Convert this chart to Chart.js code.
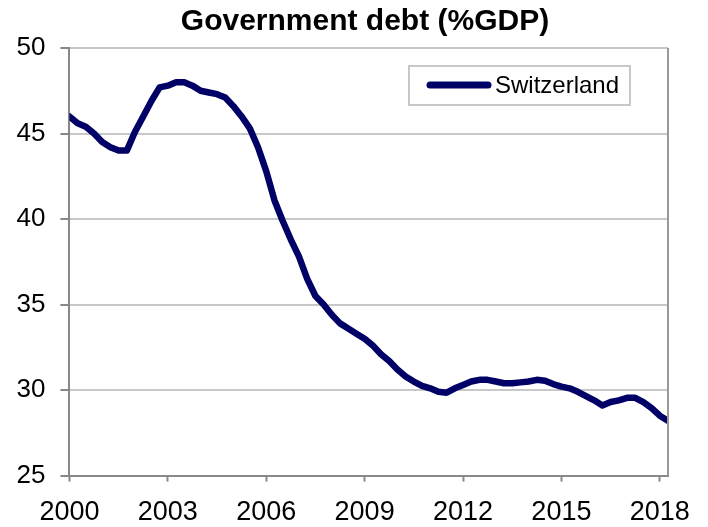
<!DOCTYPE html>
<html>
<head>
<meta charset="utf-8">
<script src="https://cdn.jsdelivr.net/npm/chart.js@4/dist/chart.umd.min.js"></script>
<style>
  html, body { margin: 0; padding: 0; background: #fff; }
  #wrap { width: 708px; height: 527px; }
</style>
</head>
<body>
<div id="wrap"><canvas id="debt"></canvas></div>
<script>
// quarterly series, first point = 2000 Q1
const firstYear = 2000;
const debtSwitzerland = [
  46.0, 45.6, 45.4, 45.0, 44.5, 44.2, 44.0, 44.0,
  45.1, 46.0, 46.9, 47.7, 47.8, 48.0, 48.0, 47.8,
  47.5, 47.4, 47.3, 47.1, 46.6, 46.0, 45.3, 44.2,
  42.8, 41.1, 39.9, 38.8, 37.8, 36.5, 35.5, 35.0,
  34.4, 33.9, 33.6, 33.3, 33.0, 32.6, 32.1, 31.7,
  31.2, 30.8, 30.5, 30.25, 30.1, 29.9, 29.85, 30.1,
  30.3, 30.5, 30.6, 30.6, 30.5, 30.4, 30.4, 30.45,
  30.5, 30.6, 30.55, 30.35, 30.2, 30.1, 29.9, 29.65,
  29.4, 29.1, 29.3, 29.4, 29.55, 29.55, 29.3, 28.95,
  28.5, 28.2
];
const xTickYears = [2000, 2003, 2006, 2009, 2012, 2015, 2018];
const yTicks = [25, 30, 35, 40, 45, 50];
const seriesName = 'Switzerland';
const chartTitle = 'Government debt (%GDP)';

const FONT = '"Liberation Sans", Arial, sans-serif';
const NAVY = '#000066';

const points = debtSwitzerland.map((v, i) => ({ x: firstYear + i / 4, y: v }));

// title, legend box inside the plot, right frame line
const decor = {
  id: 'decor',
  afterDatasetsDraw(chart) {
    const { ctx, chartArea } = chart;
    const ds = chart.data.datasets[0];
    ctx.save();

    ctx.fillStyle = '#000';
    ctx.font = 'bold 30px ' + FONT;
    ctx.textAlign = 'center';
    ctx.textBaseline = 'middle';
    ctx.fillText(chartTitle, 365, 22);

    // right edge of plot area
    ctx.strokeStyle = '#999';
    ctx.lineWidth = 2;
    ctx.beginPath();
    ctx.moveTo(chartArea.right, chartArea.top);
    ctx.lineTo(chartArea.right, chartArea.bottom);
    ctx.stroke();

    const x0 = chartArea.right - 259, y0 = chartArea.top + 18;
    ctx.fillStyle = '#fff';
    ctx.fillRect(x0, y0, 221, 39);
    ctx.strokeStyle = '#c8c8c8';
    ctx.strokeRect(x0, y0, 221, 39);

    ctx.strokeStyle = ds.borderColor;
    ctx.lineWidth = 7;
    ctx.lineCap = 'round';
    ctx.beginPath();
    ctx.moveTo(x0 + 21, y0 + 19);
    ctx.lineTo(x0 + 79, y0 + 19);
    ctx.stroke();

    ctx.fillStyle = '#000';
    ctx.font = '24px ' + FONT;
    ctx.textAlign = 'left';
    ctx.fillText(ds.label, x0 + 86, y0 + 20);
    ctx.restore();
  }
};

new Chart(document.getElementById('debt'), {
  type: 'line',
  data: {
    datasets: [{
      label: seriesName,
      data: points,
      borderColor: NAVY,
      borderWidth: 6.5,
      borderJoinStyle: 'round',
      borderCapStyle: 'round',
      pointRadius: 0,
      tension: 0,
      fill: false
    }]
  },
  options: {
    responsive: true,
    maintainAspectRatio: false,
    animation: false,
    layout: { padding: { left: 1.5, right: 40, top: 48, bottom: -17 } },
    scales: {
      x: {
        type: 'linear',
        min: firstYear,
        max: firstYear + (debtSwitzerland.length - 1) / 4,
        afterBuildTicks: s => { s.ticks = xTickYears.map(v => ({ value: v })); },
        grid: { drawOnChartArea: false, drawTicks: true, tickLength: 6, tickColor: '#888', tickWidth: 2 },
        border: { color: '#888', width: 2 },
        ticks: {
          autoSkip: false, maxRotation: 0, padding: 15,
          color: '#000', font: { family: FONT, size: 27 },
          callback: v => String(v)
        }
      },
      y: {
        min: yTicks[0],
        max: yTicks[yTicks.length - 1],
        afterBuildTicks: s => { s.ticks = yTicks.map(v => ({ value: v })); },
        grid: { color: '#c8c8c8', lineWidth: 2, tickLength: 9, tickColor: '#888', tickWidth: 2 },
        border: { color: '#888', width: 2 },
        ticks: {
          padding: 15, color: '#000',
          font: { family: FONT, size: 26 }
        }
      }
    },
    plugins: {
      legend: { display: false },
      tooltip: { enabled: false },
      title: { display: false }
    }
  },
  plugins: [decor]
});
</script>
</body>
</html>
